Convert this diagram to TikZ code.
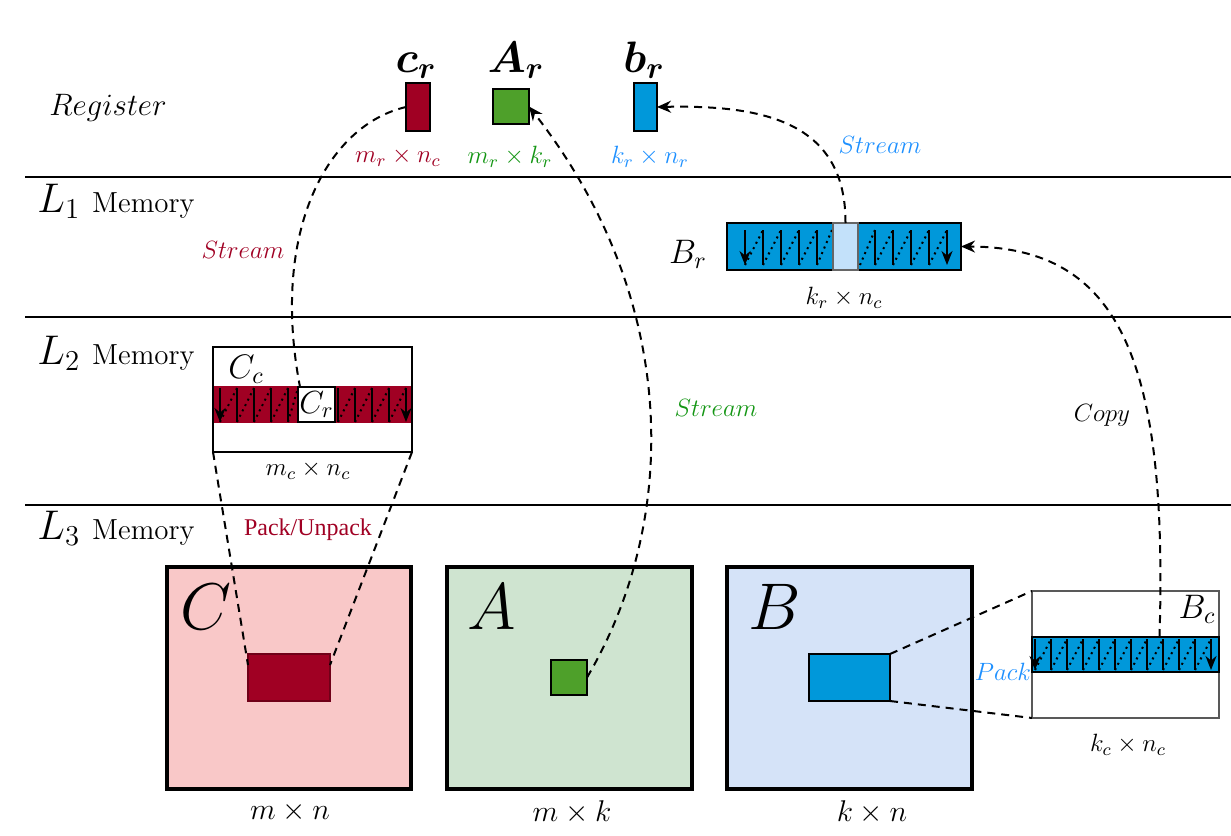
\RequirePackage{fix-cm}
\documentclass[tikz,border=0pt]{standalone}
\usepackage{fontspec}
\newfontfamily\timesfont{Liberation Serif}
\usepackage{amsmath, bm}
\usetikzlibrary{arrows.meta, positioning, calc}
\definecolor{blockred}{RGB}{160, 0, 35}
\definecolor{fillred}{RGB}{249, 200, 200}
\definecolor{blockgreen}{RGB}{78, 160, 42}
\definecolor{fillgreen}{RGB}{207, 228, 208}
\definecolor{blockblue}{RGB}{0, 152, 218}
\definecolor{fillblue}{RGB}{213, 227, 248}
\definecolor{segblue}{RGB}{195, 225, 250}
\definecolor{textgreen}{RGB}{20, 150, 20}
\definecolor{textblue}{RGB}{30, 144, 255}
\tikzset{
  blk/.style={draw, inner sep=0pt, outer sep=0pt, line width=0.8pt},
  bigbox/.style={draw, inner sep=0pt, outer sep=0pt, line width=2.4pt},
  flow/.style={line width=1pt, dash pattern=on 4pt off 3pt},
  flowarrow/.style={flow, -{Stealth[length=7pt, width=6pt]}},
  zz/.style={line width=1pt},
  zzdot/.style={line width=1pt, dotted},
  zzarr/.style={line width=1pt, -{Stealth[length=7pt, width=5.5pt]}},
  levellabel/.style={font=\fontsize{14.5}{16}\selectfont, inner sep=0pt},
  reglabel/.style={font=\fontsize{22}{24}\selectfont, inner sep=0pt},
  dimlabel/.style={font=\fontsize{12.5}{14}\selectfont},
  flowlabel/.style={font=\fontsize{12.5}{14}\selectfont},
  subblk/.style={font=\fontsize{17}{20}\selectfont},
  matlabel/.style={font=\fontsize{33}{36}\selectfont},
  bottomdim/.style={font=\fontsize{15}{17}\selectfont}
}

\begin{document}
\begin{tikzpicture}[x=0.5pt, y=-0.5pt]
  \useasboundingbox (0,0) rectangle (1231,835);

  % Memory levels
  \draw[line width=1pt] (25,177) -- (1231,177);
  \draw[line width=1pt] (25,317) -- (1231,317);
  \draw[line width=1pt] (25,505) -- (1231,505);
  \node[levellabel, font=\fontsize{15.5}{17}\selectfont] (reg) at (108,108) {$Register$};
  \node[levellabel, anchor=base west] (lone) at (37,212) {{\huge$L_1$}\hspace{6pt}Memory};
  \node[levellabel, anchor=base west] (ltwo) at (37,364) {{\huge$L_2$}\hspace{6pt}Memory};
  \node[levellabel, anchor=base west] (lthree) at (37,539) {{\huge$L_3$}\hspace{6pt}Memory};

  % Register blocks
  \node[blk, fill=blockred, minimum width=12pt, minimum height=24pt] (cr) at (418,107) {};
  \node[blk, fill=blockgreen, minimum width=18pt, minimum height=17.5pt] (Ar) at (511,106.5) {};
  \node[blk, fill=blockblue, minimum width=11.5pt, minimum height=24pt] (br) at (645.5,107) {};
  \node[reglabel, anchor=base] (crlab) at (416,72) {$\bm{c_r}$};
  \node[reglabel, anchor=base] (Arlab) at (516,72) {$\bm{A_r}$};
  \node[reglabel, anchor=base] (brlab) at (644,72) {$\bm{b_r}$};
  \node[dimlabel, text=blockred] (crdim) at (398,157) {$m_r \times n_c$};
  \node[dimlabel, text=textgreen] (Ardim) at (510,157) {$m_r \times k_r$};
  \node[dimlabel, text=textblue] (brdim) at (650,157) {$k_r \times n_r$};

  % B_r panel in L1
  \node[blk, fill=blockblue, minimum width=117pt, minimum height=23.5pt] (Br) at (844,246.5) {};
  \draw[zzarr] (745,230) -- (745,265);
  \foreach \x in {763,781,799,817} {
    \draw[zz] (\x,230) -- (\x,265);
  }
  \foreach \x in {745,763,781,799} {
    \draw[zzdot] (\x,265) -- (\x+18,230);
  }
  \draw[zzdot] (817,265) -- (832,230);
  \draw[zzdot] (860,265) -- (875,230);
  \foreach \x in {875,893,911,929} {
    \draw[zz] (\x,230) -- (\x,265);
    \draw[zzdot] (\x,265) -- (\x+18,230);
  }
  \draw[zzarr] (947,230) -- (947,265);
  \node[blk, draw=gray!80!black, fill=segblue, minimum width=12.5pt, minimum height=23.5pt] (Brseg) at (845.5,246.5) {};
  \node[subblk] (Brlab) at (688,254) {$B_r$};
  \node[dimlabel, below=5pt of Br] (Brdim) {$k_r \times n_c$};

  % C_c panel in L2
  \node[inner sep=0pt, fill=blockred, minimum width=99.5pt, minimum height=18.5pt] (Ccbar) at (312.5,404.5) {};
  \node[blk, line width=1pt, minimum width=99.5pt, minimum height=52.5pt] (Cc) at (312.5,399.5) {};
  \draw[zzarr] (220,388) -- (220,422);
  \foreach \x in {237,254,271,288} {
    \draw[zz] (\x,388) -- (\x,422);
  }
  \foreach \x in {220,237,254,271} {
    \draw[zzdot] (\x,422) -- (\x+17,388);
  }
  \draw[zzdot] (288,422) -- (298,388);
  \foreach \x in {338,355,372,389} {
    \draw[zz] (\x,388) -- (\x,422);
    \draw[zzdot] (\x,422) -- (\x+17,388);
  }
  \draw[zzarr] (406,388) -- (406,422);
  \node[blk, fill=white, minimum width=18.5pt, minimum height=17.5pt, font=\fontsize{16}{18}\selectfont] (Cr) at (316.5,404.5) {$C_r$};
  \node[subblk] (Cclab) at (246,369) {$C_c$};
  \node[dimlabel] (Ccdim) at (308,470) {$m_c \times n_c$};

  % Matrices in L3
  \node[bigbox, fill=fillred, minimum width=122pt, minimum height=111pt] (Cmat) at (289,678) {};
  \node[bigbox, fill=fillgreen, minimum width=122.5pt, minimum height=111pt] (Amat) at (569.5,678) {};
  \node[bigbox, fill=fillblue, minimum width=122.5pt, minimum height=111pt] (Bmat) at (849.5,678) {};
  \node[matlabel] (Clab) at (206,607) {$C$};
  \node[matlabel] (Alab) at (492,607) {$A$};
  \node[matlabel] (Blab) at (775,607) {$B$};
  \node[bottomdim] (Cdim) at (290,812) {$m \times n$};
  \node[bottomdim] (Adim) at (572,812) {$m \times k$};
  \node[bottomdim] (Bdim) at (872,812) {$k \times n$};
  \node[blk, draw=blockred!70!black, fill=blockred, minimum width=41pt, minimum height=23.5pt] (Cblk) at (289,677.5) {};
  \node[blk, fill=blockgreen, minimum width=18pt, minimum height=17.5pt] (Ablk) at (569,677.5) {};
  \node[blk, fill=blockblue, minimum width=40.5pt, minimum height=23.5pt] (Bblk) at (849.5,677.5) {};

  % Packed B_c
  \node[blk, draw=gray!70!black, line width=0.7pt, fill=white, minimum width=93.5pt, minimum height=63.5pt] (Bc) at (1125.5,654.5) {};
  \node[blk, fill=blockblue, line width=0.6pt, minimum width=93.5pt, minimum height=17.5pt] (Bcbar) at (1125.5,654.5) {};
  \draw[zzarr] (1035,639) -- (1035,670);
  \foreach \x in {1051,1067,...,1195} {
    \draw[zz] (\x,639) -- (\x,670);
  }
  \foreach \x in {1035,1051,...,1195} {
    \draw[zzdot] (\x,670) -- (\x+16,639);
  }
  \draw[zzarr] (1211,639) -- (1211,670);
  \node[subblk] (Bclab) at (1197,609) {$B_c$};
  \node[dimlabel] (Bcdim) at (1128,745) {$k_c \times n_c$};

  % Data movement
  \draw[flow] (cr.west) .. controls (328,125) and (270,230) .. ([xshift=1pt]Cr.north west);
  \draw[flowarrow] (Ablk.east) .. controls (680,520) and (680,300) .. (Ar.east);
  \draw[flowarrow] (Brseg.north) .. controls (846,120) and (760,105) .. (br.east);
  \draw[flowarrow] ([xshift=17pt]Bcbar.north) .. controls (1168,360) and (1120,247) .. (Br.east);
  \draw[flow] (Cc.south west) -- ([yshift=-5.5pt]Cblk.north west);
  \draw[flow] (Cc.south east) -- ([yshift=-5.5pt]Cblk.north east);
  \draw[flow] (Bblk.north east) -- (Bc.north west);
  \draw[flow] (Bblk.south east) -- (Bc.south west);

  \node[flowlabel, text=blockred] (strc) at (243,250) {$Stream$};
  \node[flowlabel, text=textgreen] (stra) at (716,408) {$Stream$};
  \node[flowlabel, text=textblue] (strb) at (880,145) {$Stream$};
  \node[flowlabel] (copy) at (1102,415) {$Copy$};
  \node[flowlabel, text=textblue] (pack) at (1003,672) {$Pack$};
  \node[font=\timesfont\fontsize{12}{14}\selectfont, text=blockred] (unpack) at (308,530) {Pack/Unpack};
\end{tikzpicture}
\end{document}
